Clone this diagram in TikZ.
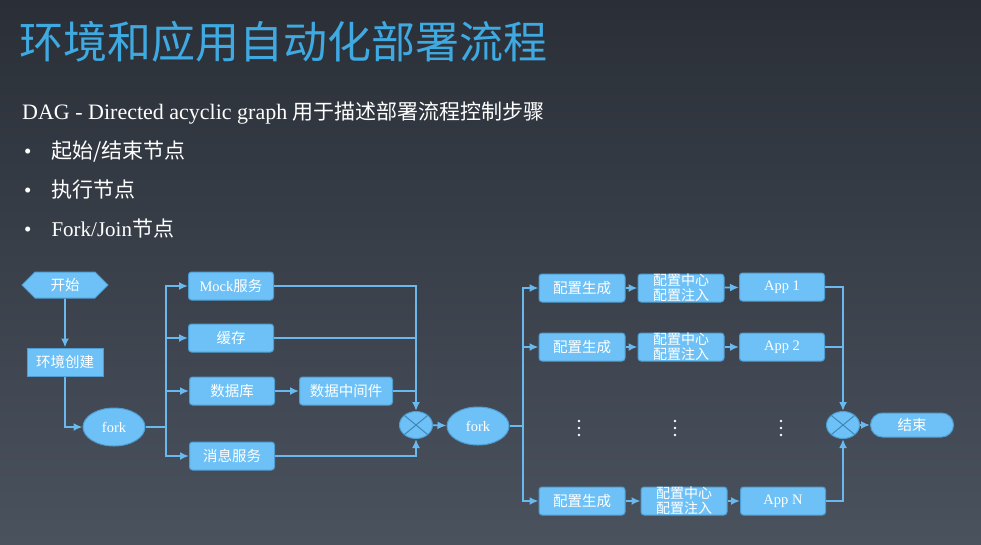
\documentclass[tikz,border=0pt]{standalone}
\usepackage{fontspec}
\setmainfont{Liberation Serif}
\newfontfamily\cjk{Noto Sans CJK SC}
\usetikzlibrary{shapes.geometric,shapes.symbols,arrows.meta}
\definecolor{bgtop}{HTML}{2A2F37}
\definecolor{bgbot}{HTML}{4A525E}
\definecolor{nodefill}{HTML}{6EC1F6}
\definecolor{nodeedge}{HTML}{4E9ED2}
\definecolor{linecol}{HTML}{6AB9EE}
\definecolor{titleblue}{HTML}{3FA9E1}
\definecolor{xline}{HTML}{3F86B8}
\begin{document}
\begin{tikzpicture}[x=1pt,y=-1pt,
  nodetext/.style={text=white, font=\fontsize{14.5}{15}\selectfont, inner sep=0pt},
  box/.style={nodetext, draw=nodeedge, fill=nodefill, line width=1pt, rounded corners=3pt, minimum width=85pt, minimum height=28pt, align=center},
  twoline/.style={box, minimum width=86pt, font=\cjk\fontsize{14}{15}\selectfont},
  sqbox/.style={nodetext, draw=nodeedge, fill=nodefill, line width=1pt, minimum width=76pt, minimum height=28pt},
  forknode/.style={nodetext, ellipse, draw=nodeedge, fill=nodefill, line width=1pt, minimum width=62pt, minimum height=38pt},
  joinnode/.style={ellipse, draw=nodeedge, fill=nodefill, line width=1pt, minimum width=33pt, minimum height=27pt, inner sep=0pt},
  conn/.style={draw=linecol, line width=1.8pt},
  arr/.style={conn, -{Latex[length=9pt,width=8pt]}},
  dotmark/.style={fill=white},
  bodytext/.style={anchor=west, text=white, inner sep=0pt, font=\fontsize{21}{21}\selectfont}
]
\shade[top color=bgtop, bottom color=bgbot] (0,0) rectangle (981,544);
\useasboundingbox (0,0) rectangle (981,544);

% title and text
\node[anchor=west, text=titleblue, inner sep=0pt, font=\cjk\fontsize{44}{44}\selectfont] (title) at (19,42) {环境和应用自动化部署流程};
\node[bodytext, font=\fontsize{22}{22}\selectfont] (dag) at (22,113) {DAG - Directed acyclic graph {\cjk\fontsize{21}{21}\selectfont 用于描述部署流程控制步骤}};
\node[bodytext] (b1) at (24,152) {•\hspace{20pt}{\cjk 起始/结束节点}};
\node[bodytext] (b2) at (24,190) {•\hspace{20pt}{\cjk 执行节点}};
\node[bodytext] (b3) at (24,229) {•\hspace{20pt}Fork/Join{\cjk 节点}};

% left part
\node[nodetext, signal, signal to=west and east, draw=nodeedge, fill=nodefill, line width=1pt, minimum width=86pt, minimum height=26pt] (start) at (65,285) {\cjk 开始};
\node[sqbox] (env) at (65,362) {\cjk 环境创建};
\node[forknode] (fork1) at (114,427) {fork};
\node[box] (mock) at (231,286) {Mock{\cjk 服务}};
\node[box] (cache) at (231,338) {\cjk 缓存};
\node[box] (db) at (232,391) {\cjk 数据库};
\node[box, minimum width=93pt] (dbm) at (346,391) {\cjk 数据中间件};
\node[box] (msg) at (232,456) {\cjk 消息服务};
\node[joinnode] (join1) at (416,425) {};
\node[forknode] (fork2) at (478,426) {fork};

% right part
\node[box, minimum width=86pt] (cfg1) at (582,288) {\cjk 配置生成};
\node[twoline] (cen1) at (681,288) {配置中心\\配置注入};
\node[box] (app1) at (782,287) {App 1};
\node[box, minimum width=86pt] (cfg2) at (582,347) {\cjk 配置生成};
\node[twoline] (cen2) at (681,347) {配置中心\\配置注入};
\node[box] (app2) at (782,347) {App 2};
\node[box, minimum width=86pt] (cfgN) at (582,501) {\cjk 配置生成};
\node[twoline] (cenN) at (684,501) {配置中心\\配置注入};
\node[box] (appN) at (783,501) {App N};
\node[joinnode] (join2) at (843,425) {};
\node[nodetext, draw=nodeedge, fill=nodefill, line width=1pt, rounded corners=12pt, minimum width=83pt, minimum height=24pt] (end) at (912,425) {\cjk 结束};

% X marks in join nodes
\foreach \j in {join1,join2} {
  \draw[xline, line width=1pt] (\j.north west) -- (\j.south east);
  \draw[xline, line width=1pt] (\j.north east) -- (\j.south west);
}

% dots
\foreach \x in {579,675,781} {
  \foreach \y in {421,428,435} {
    \fill[dotmark] (\x,\y) circle (1.4pt);
  }
}

% connectors left
\draw[arr] (start) -- (env);
\draw[arr] (env.south) |- (fork1.west);
\coordinate (bra1) at (166,427);
\draw[conn] (fork1.east) -- (bra1);
\draw[arr] (bra1) |- (mock.west);
\draw[arr] (bra1) |- (cache.west);
\draw[arr] (bra1) |- (db.west);
\draw[arr] (bra1) |- (msg.west);
\draw[arr] (db) -- (dbm);
\draw[arr] (mock.east) -| (join1.north);
\draw[conn] (cache.east) -- (cache.east -| join1.north);
\draw[conn] (dbm.east) -- (dbm.east -| join1.north);
\draw[arr] (msg.east) -| (join1.south);
\draw[arr] (join1) -- (fork2);

% connectors right
\coordinate (bra2) at (523,426);
\draw[conn] (fork2.east) -- (bra2);
\draw[arr] (bra2) |- (cfg1.west);
\draw[arr] (bra2) |- (cfg2.west);
\draw[arr] (bra2) |- (cfgN.west);
\draw[arr] (cfg1) -- (cen1);
\draw[arr] (cen1) -- (app1);
\draw[arr] (cfg2) -- (cen2);
\draw[arr] (cen2) -- (app2);
\draw[arr] (cfgN) -- (cenN);
\draw[arr] (cenN) -- (appN);
\draw[arr] (app1.east) -| (join2.north);
\draw[conn] (app2.east) -- (app2.east -| join2.north);
\draw[arr] (appN.east) -| (join2.south);
\draw[arr] (join2) -- (end);
\end{tikzpicture}
\end{document}
